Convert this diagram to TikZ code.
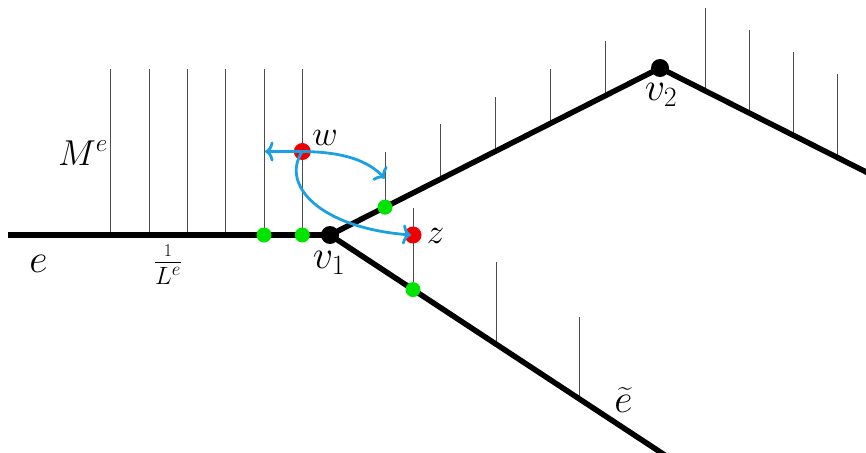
\RequirePackage{fix-cm}
\documentclass[tikz,border=0pt]{standalone}
\usepackage{exscale}
\usetikzlibrary{arrows.meta,calc}
\definecolor{arrblue}{RGB}{27,161,226}
\definecolor{dotgreen}{RGB}{0,228,0}
\definecolor{dotred}{RGB}{240,0,0}
\newcommand{\fsz}[1]{\fontsize{#1}{#1}\selectfont}
\begin{document}
\begin{tikzpicture}[x=1pt,y=-1pt,
  edge/.style={line width=5.5pt,black},
  fiber/.style={line width=1pt,black!70},
  vertexdot/.style={circle,fill=black,inner sep=0pt,minimum size=18pt},
  gdot/.style={circle,fill=dotgreen,inner sep=0pt,minimum size=15pt},
  rdot/.style={circle,fill=dotred,inner sep=0pt,minimum size=17pt},
  move/.style={arrblue,line width=2.8pt,-{Computer Modern Rightarrow[length=8.5pt,width=20pt]}},
  biglab/.style={inner sep=0pt,anchor=base,font=\fsz{40}},
  midlab/.style={inner sep=0pt,anchor=base,font=\fsz{36}},
  smalllab/.style={inner sep=0pt,anchor=base,font=\fsz{35}},
  fraclab/.style={inner sep=0pt,anchor=base,font=\fsz{24}}]
\useasboundingbox (0,0) rectangle (866,452);

% graph coordinates
\coordinate (eL) at (8,235);
\coordinate (v1) at (330,235);
\coordinate (v2) at (660,68);
\coordinate (rEnd) at (880,179);
\coordinate (lEnd) at (670,458.5);

% fibres over e
\foreach \x in {110.7,149,187.3,225.7,264,302.3}
  \draw[fiber] (\x,69) -- (\x,235);
% fibres over v1--v2
\foreach \t in {1,...,5}
  \draw[fiber] ($(v1)!\t/6!(v2)$) -- ++(0,-55);
% fibres over right edge
\foreach \x in {705,749,793,837}
  \draw[fiber] ($(v2)!{(\x-660)/220}!(rEnd)$) -- ++(0,-83);
% fibres over lower edge
\foreach \t in {1,2,3}
  \draw[fiber] ($(v1)!{\t*83/340}!(lEnd)$) -- ++(0,-82);

% edges
\draw[edge] (eL) -- (v1);
\draw[edge] (v1) -- (v2) -- (rEnd);
\draw[edge] (v1) -- (lEnd);

% dots
\node[vertexdot] (V1) at (v1) {};
\node[vertexdot] (V2) at (v2) {};
\node[gdot] (g1) at (264,235) {};
\node[gdot] (g2) at (302.3,235) {};
\node[gdot] (g3) at ($(v1)!1/6!(v2)$) {};
\node[gdot] (g4) at ($(v1)!83/340!(lEnd)$) {};
\node[rdot] (w) at (302.3,151.5) {};
\node[rdot] (z) at (413,235) {};

% arrows
\coordinate (wl) at (265,151.5);
\coordinate (wr) at (385,178.5);
\coordinate (zt) at (411,235);
\draw[move] (w.center) -- (wl);
\draw[move] (w.center) .. controls (345,152) and (368,161) .. (wr);
\draw[move] (w.center) .. controls (280,185) and (320,228) .. (zt);

% labels
\node[biglab] (le) at (38.5,272.5) {$e$};
\node[biglab] (lv1) at (329,268) {$v_1$};
\node[biglab] (lv2) at (661,100) {$v_2$};
\node[biglab] (let) at (623.5,412) {$\widetilde{e}$};
\node[smalllab] (lw) at (325,145) {$w$};
\node[smalllab] (lz) at (435.5,243) {$z$};
\node[midlab] (lM) at (83,165) {$M^e$};
\node[fraclab] (lL) at (168,268.3) {$\frac{\hbox{\fsz{18}$1$}\vrule width 0pt depth 4.5pt}{\vrule width 0pt height 21pt\hbox{\fsz{25}$L^{\hbox{\fsz{19}$e$}}$}}$};
\end{tikzpicture}
\end{document}
